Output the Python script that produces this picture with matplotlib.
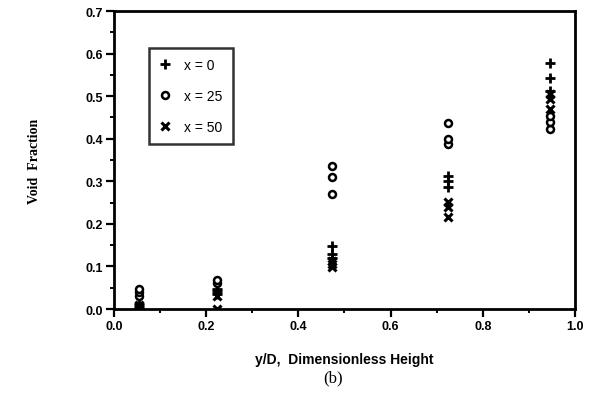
import numpy as np
import matplotlib
matplotlib.use("Agg")
import matplotlib.pyplot as plt
from matplotlib.ticker import MultipleLocator

# data: dimensionless height y/D and void fraction
x0_h = [0.054, 0.054, 0.224, 0.224, 0.224, 0.474, 0.474, 0.474, 0.724, 0.724, 0.724, 0.946, 0.946, 0.946]
x0_v = [0.005, 0.012, 0.035, 0.042, 0.048, 0.12, 0.13, 0.147, 0.286, 0.30, 0.312, 0.512, 0.542, 0.577]

x25_h = [0.054, 0.054, 0.054, 0.224, 0.224, 0.474, 0.474, 0.474, 0.724, 0.724, 0.724, 0.946, 0.946, 0.946]
x25_v = [0.03, 0.04, 0.047, 0.06, 0.068, 0.27, 0.31, 0.336, 0.388, 0.40, 0.437, 0.423, 0.44, 0.453]

x50_h = [0.054, 0.054, 0.054, 0.224, 0.224, 0.474, 0.474, 0.474, 0.724, 0.724, 0.724, 0.946, 0.946, 0.946]
x50_v = [0.0, 0.005, 0.01, 0.0, 0.03, 0.098, 0.105, 0.112, 0.215, 0.24, 0.252, 0.47, 0.493, 0.505]

labels = ["x = 0", "x = 25", "x = 50"]


def main():
    plt.rcParams['font.family'] = ['Liberation Sans', 'DejaVu Sans']
    fig = plt.figure(figsize=(5.98, 4.14), dpi=100)
    ax = fig.add_axes([0.1906, 0.2512, 0.7709, 0.7198])

    ax.plot(x0_h, x0_v, linestyle='none', marker='+', color='black', ms=7, mew=2, label=labels[0])
    ax.plot(x25_h, x25_v, linestyle='none', marker='o', mfc='white', mec='black', ms=5, mew=1.8, label=labels[1])
    ax.plot(x50_h, x50_v, linestyle='none', marker='x', color='black', ms=5.5, mew=2.2, label=labels[2])

    ax.set_xlim(0.0, 1.0)
    ax.set_ylim(0.0, 0.7)
    ax.xaxis.set_major_locator(MultipleLocator(0.2))
    ax.xaxis.set_minor_locator(MultipleLocator(0.1))
    ax.yaxis.set_major_locator(MultipleLocator(0.1))
    ax.yaxis.set_minor_locator(MultipleLocator(0.05))
    ax.set_xticklabels(['%.1f' % v for v in ax.get_xticks()])
    ax.set_yticklabels(['%.1f' % v for v in ax.get_yticks()])
    ax.tick_params(which='major', direction='out', length=6, width=1.6, labelsize=9, pad=2)
    ax.tick_params(which='minor', direction='out', length=3, width=1.4)
    for lab in ax.get_xticklabels() + ax.get_yticklabels():
        lab.set_fontweight('bold')
    for sp in ['left', 'bottom', 'top', 'right']:
        ax.spines[sp].set_linewidth(2)

    leg = ax.legend(loc='upper left', bbox_to_anchor=(0.06, 0.9), frameon=True, fancybox=False,
                    edgecolor='black', handletextpad=0.9, labelspacing=1.2, borderpad=0.75,
                    prop={'family': 'Liberation Sans', 'size': 10}, handlelength=0.9)
    leg.get_frame().set_linewidth(1.8)

    ax.set_xlabel("y/D,  Dimensionless Height", fontsize=10, fontweight='bold', labelpad=14)
    ax.set_ylabel("Void  Fraction", fontsize=10, fontweight='bold', family='Liberation Serif', labelpad=32)
    fig.text(0.557, 0.087, "(b)", ha='center', va='center', fontsize=12, family='Liberation Serif')

    fig.savefig('out.png', dpi=100)
    plt.close(fig)


if __name__ == "__main__":
    main()
